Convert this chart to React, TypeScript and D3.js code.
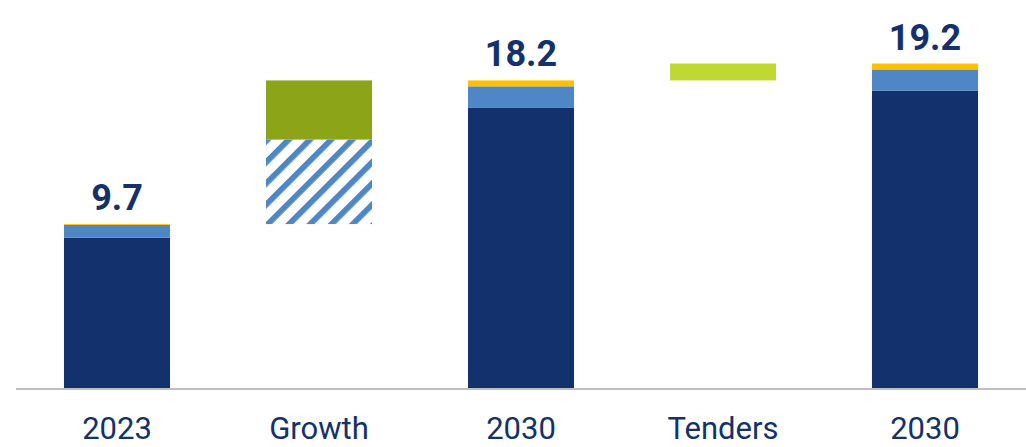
import React from "react";
import * as d3 from "d3";

const categories = ["2023", "Growth", "2030", "Tenders", "2030"];
const isTotal = [true, false, true, false, true];
const darkValues = [8.9, 0, 16.6, 0, 17.6];
const lightValues = [0.75, 0, 1.25, 0, 1.25];
const yellowValues = [0.05, 0, 0.35, 0, 0.35];
const hatchValues = [0, 5.0, 0, 0, 0];
const growthValues = [0, 3.5, 0, 0, 0];
const tenderValues = [0, 0, 0, 1.0, 0];
const totalLabels = ["9.7", "", "18.2", "", "19.2"];

const W = 1026;
const H = 447;
const NAVY = "#12316d";
const LIGHT = "#4f86c6";
const YELLOW = "#ffc000";
const OLIVE = "#8ba418";
const LIME = "#c0d932";

export default function App() {
  const x = d3.scaleBand<string>().domain(categories.map((c, i) => i + "")).range([16, 1026]).paddingInner(0.475).paddingOuter(0.2375);
  const y = d3.scaleLinear().domain([0, 20]).range([388, 50]);

  const series = [
    { key: "dark", values: darkValues, fill: NAVY },
    { key: "hatch", values: hatchValues, fill: "url(#hatch)" },
    { key: "light", values: lightValues, fill: LIGHT },
    { key: "growth", values: growthValues, fill: OLIVE },
    { key: "tender", values: tenderValues, fill: LIME },
    { key: "yellow", values: yellowValues, fill: YELLOW },
  ];

  const bases: number[] = [];
  const totals: number[] = [];
  let running = 0;
  categories.forEach((_, i) => {
    const sum = series.reduce((s, se) => s + se.values[i], 0);
    if (isTotal[i]) {
      bases.push(0);
      running = sum;
    } else {
      bases.push(running);
      running += sum;
    }
    totals.push(bases[i] + sum);
  });

  const rects: React.ReactElement[] = [];
  categories.forEach((_, i) => {
    let acc = bases[i];
    series.forEach((se) => {
      const v = se.values[i];
      if (v <= 0) return;
      const y0 = y(acc);
      const y1 = y(acc + v);
      rects.push(
        <rect key={se.key + i} x={x(i + "")} width={x.bandwidth()} y={y1} height={y0 - y1} fill={se.fill} />
      );
      acc += v;
    });
  });

  return (
    <div style={{ position: "fixed", left: 0, top: 0 }}>
      <svg width={W} height={H} style={{ display: "block", fontFamily: "Roboto, sans-serif" }}>
        <defs>
          <pattern id="hatch" patternUnits="userSpaceOnUse" width={15} height={15} patternTransform="rotate(45)">
            <rect x={0} y={0} width={5.8} height={15} fill={LIGHT} />
          </pattern>
        </defs>
        <rect x={0} y={0} width={W} height={H} fill="#fff" />
        {rects}
        <line x1={16} x2={1026} y1={y(0) + 1} y2={y(0) + 1} stroke="#bfbfbf" strokeWidth={2} />
        {categories.map((c, i) => (
          <text key={"lab" + i} x={(x(i + "") as number) + x.bandwidth() / 2} y={439} textAnchor="middle" fontSize={31} fill={NAVY}>
            {c}
          </text>
        ))}
        {totalLabels.map((t, i) =>
          t ? (
            <text key={"tot" + i} x={(x(i + "") as number) + x.bandwidth() / 2} y={y(totals[i]) - 14} textAnchor="middle" fontSize={36} fontWeight="bold" fill={NAVY}>
              {t}
            </text>
          ) : null
        )}
      </svg>
    </div>
  );
}
